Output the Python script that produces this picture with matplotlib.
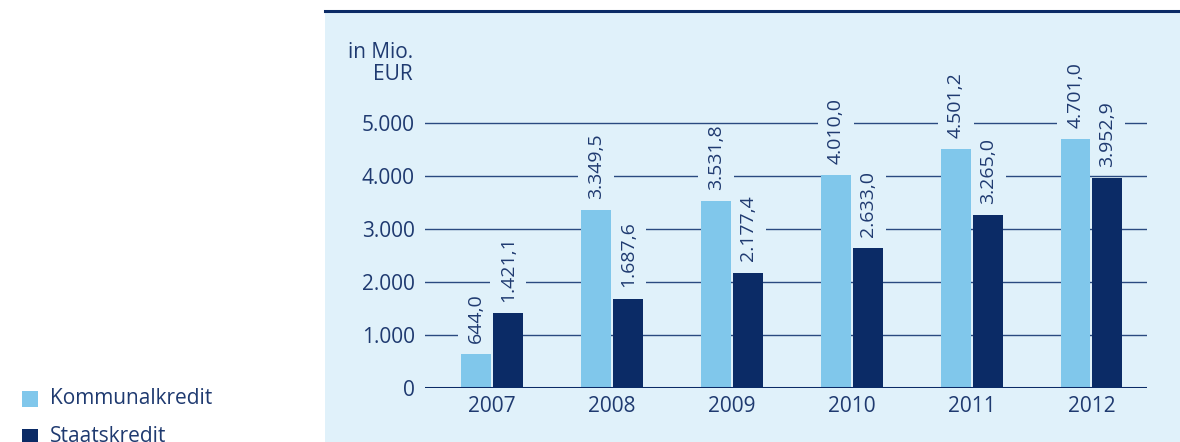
import matplotlib
matplotlib.use("Agg")
import matplotlib.pyplot as plt
from matplotlib.patches import Rectangle
from matplotlib.lines import Line2D
import numpy as np

years = ["2007", "2008", "2009", "2010", "2011", "2012"]
kommunal = [644.0, 3349.5, 3531.8, 4010.0, 4501.2, 4701.0]
staats = [1421.1, 1687.6, 2177.4, 2633.0, 3265.0, 3952.9]
series_names = ["Kommunalkredit", "Staatskredit"]
yticks = [0, 1000, 2000, 3000, 4000, 5000]
ytick_labels = ["0", "1.000", "2.000", "3.000", "4.000", "5.000"]

light = "#80c7eb"
dark = "#0b2b66"
bg = "#e0f1fa"
txt = "#1f3a70"
grid = "#2a4a80"

plt.rcParams['font.family'] = ['Open Sans', 'DejaVu Sans']
fs = 15

W, H = 1180, 442
fig = plt.figure(figsize=(W / 100, H / 100), dpi=100)

# light blue panel with dark line on top
fig.patches.append(Rectangle((325 / W, 0), 1 - 325 / W, 1 - 11 / H,
                             transform=fig.transFigure, facecolor=bg,
                             edgecolor="none", zorder=-2))
fig.lines.append(Line2D([325 / W, 1], [1 - 11 / H] * 2, transform=fig.transFigure,
                        color=dark, lw=2.2, zorder=-1))

ax = fig.add_axes([425 / W, 54 / H, (1147 - 425) / W, 378 / H])
ax.patch.set_visible(False)
for s in ax.spines.values():
    s.set_visible(False)

x = np.arange(len(years))
bw = 0.25
off = 0.1334
ax.set_xlim(-0.559, 5.463)
ax.set_ylim(0, 378 / 53 * 1000)

for yv in yticks[1:]:
    ax.axhline(yv, color=grid, lw=1.0, zorder=1)
ax.axhline(0, color=dark, lw=2.2, zorder=4)

b1 = ax.bar(x - off, kommunal, bw, color=light, zorder=3)
b2 = ax.bar(x + off, staats, bw, color=dark, zorder=3)

def fmt(v):
    s = f"{v:,.1f}"
    return s.replace(",", "X").replace(".", ",").replace("X", ".")

labels = []
for bars, vals in ((b1, kommunal), (b2, staats)):
    for rect, v in zip(bars, vals):
        t = ax.annotate(fmt(v), (rect.get_x() + rect.get_width() / 2, v),
                        xytext=(0, 8), textcoords="offset points",
                        rotation=90, ha="center", va="bottom", fontsize=14,
                        color=txt, zorder=2.5)
        labels.append(t)

ax.set_yticks(yticks)
ax.set_yticklabels(ytick_labels)
ax.set_xticks(x)
ax.set_xticklabels(years)
ax.tick_params(axis="y", length=0, pad=7.5, labelsize=fs, labelcolor=txt)
ax.tick_params(axis="x", length=0, pad=6, labelsize=fs, labelcolor=txt)

# cut the grid lines around the value labels (wide sideways, tight above)
fig.canvas.draw()
inv = ax.transData.inverted()
for t in labels:
    bb = t.get_window_extent()
    (x0, y0), (x1, y1) = inv.transform([(bb.x0 - 9, bb.y0 - 2), (bb.x1 + 9, bb.y1 - 1)])
    ax.add_patch(Rectangle((x0, y0), x1 - x0, y1 - y0, facecolor=bg,
                           edgecolor="none", zorder=2))

fig.text(413 / W, 1 - 53 / H, "in Mio.", ha="right", va="center",
         fontsize=fs, color=txt)
fig.text(413 / W, 1 - 74 / H, "EUR", ha="right", va="center",
         fontsize=fs, color=txt)

# legend on the left
for i, (name, col) in enumerate(zip(series_names, [light, dark])):
    yc = 399 + i * 38
    fig.patches.append(Rectangle((22 / W, 1 - (yc + 8) / H), 16 / W, 16 / H,
                                 transform=fig.transFigure, facecolor=col,
                                 edgecolor="none"))
    fig.text(50 / W, 1 - yc / H, name, ha="left", va="center",
             fontsize=fs, color=txt)

fig.savefig("out.png", dpi=100)
